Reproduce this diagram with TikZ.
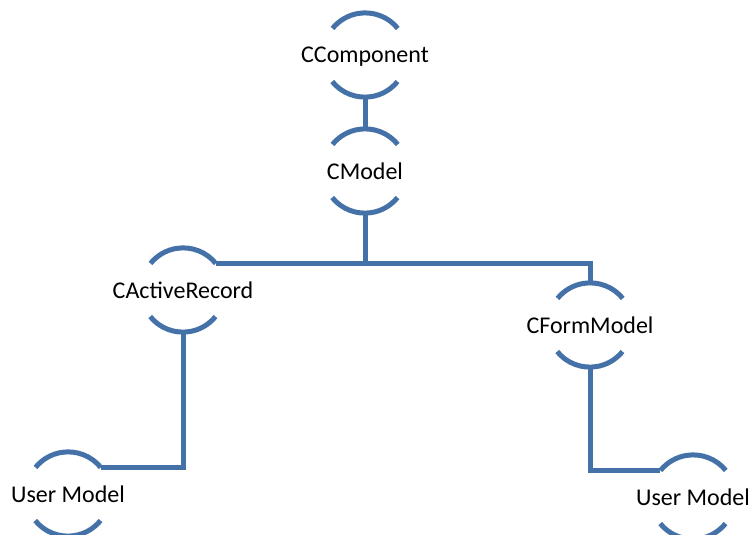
\documentclass[tikz,border=0pt]{standalone}
\usepackage{fontspec}
\setmainfont{Carlito}
\definecolor{arcblue}{RGB}{68,114,168}
\begin{document}
\begin{tikzpicture}[x=1pt,y=1pt,
  ring/.style={circle, minimum size=84pt, inner sep=0pt, draw=none},
  lbl/.style={font=\fontsize{24}{28}\selectfont, text=black, inner sep=0pt, anchor=base},
  conn/.style={draw=arcblue, line width=5pt}]
\useasboundingbox (0,0) rectangle (750,-535);
\node[ring] (comp) at (365,-55) {};
\node[ring] (model) at (365,-171) {};
\node[ring] (ar) at (183,-290) {};
\node[ring] (fm) at (590,-325) {};
\node[ring] (ul) at (68,-494) {};
\node[ring] (ur) at (693,-497) {};
\node[lbl] (compt) at ([yshift=-8pt]comp.center) {CComponent};
\node[lbl] (modelt) at ([yshift=-8pt]model.center) {CModel};
\node[lbl] (art) at ([yshift=-8pt]ar.center) {CActiveRecord};
\node[lbl] (fmt) at ([yshift=-8pt]fm.center) {CFormModel};
\node[lbl] (ult) at ([yshift=-8pt]ul.center) {User Model};
\node[lbl] (urt) at ([yshift=-8pt]ur.center) {User Model};
\foreach \n in {comp,model,ar,fm,ul,ur}{
  \draw[conn] (\n.39) arc[start angle=39, end angle=141, radius=42pt];
  \draw[conn] (\n.219) arc[start angle=219, end angle=321, radius=42pt];
}
\draw[conn] (comp.south) -- (model.north);
\draw[conn] (model.south) -- (model.south |- ar.39);
\draw[conn] (ar.39) -| (fm.north);
\draw[conn] (ar.south) |- (ul.39);
\draw[conn] (fm.south) |- (ur.141);
\end{tikzpicture}
\end{document}
